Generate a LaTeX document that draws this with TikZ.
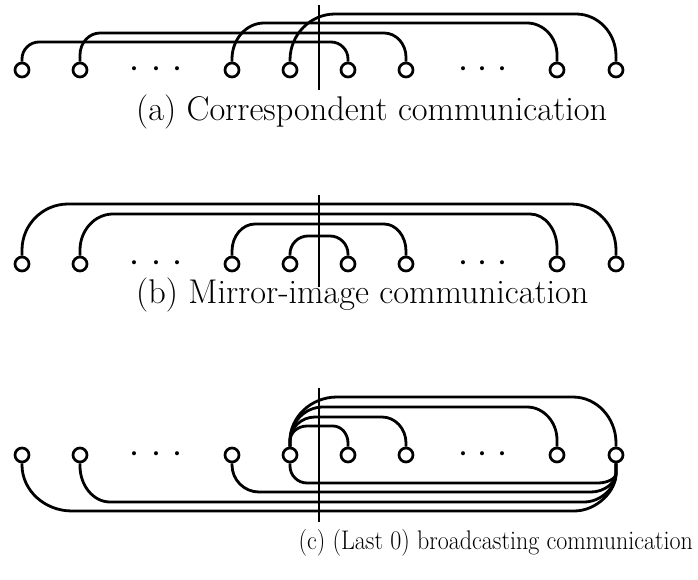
\documentclass[tikz,border=0pt]{standalone}
\usepackage{graphicx}
\usetikzlibrary{calc}
\tikzset{
  pe/.style={draw, circle, line width=2.7pt, minimum size=14pt, inner sep=0pt},
  wire/.style={line width=2.8pt},
  divider/.style={line width=2.8pt},
  captext/.style={inner sep=0pt, font=\fontsize{34.3}{40}\selectfont},
  dotnode/.style={inner sep=0pt, font=\fontsize{18}{20}\selectfont}
}
% arch above nodes: #1 from, #2 to, #3 level y, #4 rx left, #5 ry left, #6 rx right, #7 ry right
\newcommand\archup[7]{%
  \draw[wire] (#1.north) -- (#1.north |- 0,#3+#5)
    .. controls (#1.north |- 0,#3+0.45*#5) and ($(#1.north |- 0,#3)+(0.45*#4,0)$)
    .. ($(#1.north |- 0,#3)+(#4,0)$)
    -- ($(#2.north |- 0,#3)+(-#6,0)$)
    .. controls ($(#2.north |- 0,#3)+(-0.45*#6,0)$) and (#2.north |- 0,#3+0.45*#7)
    .. (#2.north |- 0,#3+#7) -- (#2.north);}
% arch below nodes converging into #2: #3 level, #4 rx left, #5 ry left, #6 rx right, #7 join y
\newcommand\archdown[7]{%
  \draw[wire] (#1.south) -- (#1.south |- 0,#3-#5)
    .. controls (#1.south |- 0,#3-0.45*#5) and ($(#1.south |- 0,#3)+(0.45*#4,0)$)
    .. ($(#1.south |- 0,#3)+(#4,0)$)
    -- ($(#2.south |- 0,#3)+(-#6,0)$)
    .. controls ($(#2.south |- 0,#3)+(-0.45*#6,0)$) and (#2.south |- 0,{#7+0.45*(#3-#7)})
    .. (#2.south |- 0,#7) -- (#2.south);}
\begin{document}
\begin{tikzpicture}[x=1pt,y=-1pt]
\useasboundingbox (0,0) rectangle (698,580);
\foreach \r/\y in {a/70,b/264,c/455}{
  \foreach \n/\x in {1/22,2/80,3/232,4/290,5/348,6/406,7/557,8/616}
    \node[pe] (\r\n) at (\x,\y) {};
  \foreach \k/\x in {1/134,2/156,3/177,4/463,5/482,6/502}
    \node[dotnode] (\r d\k) at (\x,\y) {\textbullet};
}
% ---------- (a)
\archup{a1}{a5}{42}{17}{17}{17}{17}
\archup{a2}{a6}{33}{20}{22}{22}{24}
\archup{a3}{a7}{23}{32}{36}{30}{32}
\archup{a4}{a8}{14}{45}{46}{40}{42}
\coordinate (vat) at (319,5);
\coordinate (vab) at (319,90);
\draw[divider] (vat) -- (vab);
\node[captext, anchor=base west] (capa) at (136,121) {(a) Correspondent communication};
% ---------- (b)
\archup{b1}{b8}{204}{46}{46}{45}{46}
\archup{b2}{b7}{214}{33}{36}{27}{34}
\archup{b3}{b6}{224}{23}{27}{22}{27}
\archup{b4}{b5}{236}{18}{18}{18}{18}
\coordinate (vbt) at (319,195);
\coordinate (vbb) at (319,287);
\draw[divider] (vbt) -- (vbb);
\node[captext, anchor=base west] (capb) at (136,303) {(b) Mirror-image communication};
% ---------- (c)
\archup{c4}{c5}{426}{17}{15}{15}{17}
\archup{c4}{c6}{417}{25}{24}{24}{26}
\archup{c4}{c7}{407}{33}{34}{30}{33}
\archup{c4}{c8}{397}{47}{44}{43}{46}
\archdown{c4}{c8}{483}{17}{17}{18}{474}
\archdown{c3}{c8}{492}{27}{27}{25}{474}
\archdown{c2}{c8}{502}{30}{36}{32}{474}
\archdown{c1}{c8}{511}{50}{46}{42}{474}
\coordinate (vct) at (319,388);
\coordinate (vcb) at (319,522);
\draw[divider] (vct) -- (vcb);
\node[captext, anchor=base east, font=\fontsize{24}{28}\selectfont] (capc) at (693,549) {\scalebox{1}[1.12]{(c) (Last 0) broadcasting communication}};
\end{tikzpicture}
\end{document}
